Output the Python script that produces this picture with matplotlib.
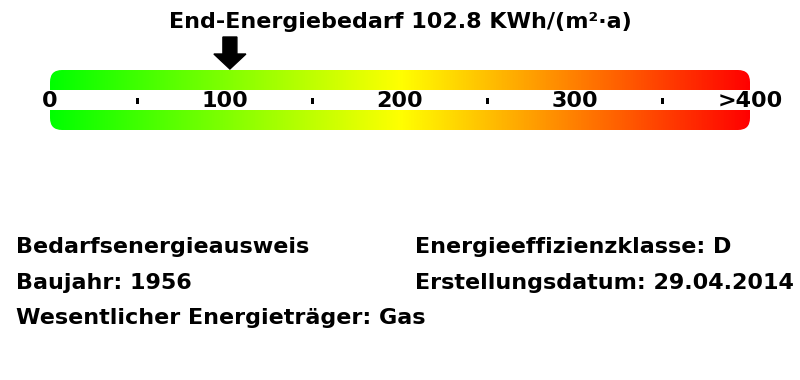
import numpy as np
import matplotlib
matplotlib.use("Agg")
import matplotlib.pyplot as plt
from matplotlib.patches import FancyBboxPatch, Rectangle, FancyArrow
from matplotlib.colors import LinearSegmentedColormap

# ---- data ----
scale_min, scale_max = 0, 400
tick_values = [0, 100, 200, 300, 400]
tick_labels = ["0", "100", "200", "300", ">400"]
minor_ticks = [50, 150, 250, 350]
value = 102.8
title = "End-Energiebedarf 102.8 KWh/(m²·a)"
left_info = ["Bedarfsenergieausweis", "Baujahr: 1956", "Wesentlicher Energieträger: Gas"]
right_info = ["Energieeffizienzklasse: D", "Erstellungsdatum: 29.04.2014"]
grad_colors = ["#00ff00", "#ffff00", "#ff0000"]

W, H = 800, 380
fig = plt.figure(figsize=(W / 100, H / 100), dpi=100)
ax = fig.add_axes([0, 0, 1, 1])
# x: value scale; 0 -> 50px, 400 -> 750px ; y: pixel rows
px_per_unit = 700 / (scale_max - scale_min)
ax.set_xlim(scale_min - 50 / px_per_unit, scale_max + 50 / px_per_unit)
ax.set_ylim(H, 0)
ax.axis("off")

fs = 16
bold = dict(fontsize=fs, fontweight="bold", family="DejaVu Sans", color="black")

# gradient bar with rounded corners
cmap = LinearSegmentedColormap.from_list("energy", grad_colors)
grad = np.linspace(0, 1, 512).reshape(1, -1)
bar_top, bar_bot = 70, 130
radius_px = 12
patch = FancyBboxPatch((scale_min, bar_top), scale_max - scale_min, bar_bot - bar_top,
                       boxstyle=f"round,pad=0,rounding_size={radius_px / px_per_unit}",
                       mutation_aspect=px_per_unit, facecolor="none", edgecolor="none")
ax.add_patch(patch)
im = ax.imshow(grad, cmap=cmap, aspect="auto",
               extent=(scale_min, scale_max, bar_bot, bar_top), interpolation="bilinear")
im.set_clip_path(patch)

# white band
ax.add_patch(Rectangle((scale_min, 90), scale_max - scale_min, 20, facecolor="white",
                       edgecolor="none", zorder=3))

for v, lab in zip(tick_values, tick_labels):
    ax.text(v, 101, lab, ha="center", va="center", zorder=4, **bold)
for v in minor_ticks:
    ax.add_patch(Rectangle((v - 1.5 / px_per_unit, 98), 3 / px_per_unit, 6,
                           facecolor="black", edgecolor="none", zorder=4))

# arrow
ax.add_patch(FancyArrow(value, 37, 0, 32, width=14 / px_per_unit, head_width=32 / px_per_unit,
                        head_length=15, length_includes_head=True, color="black",
                        zorder=5))

ax.text((scale_min + scale_max) / 2, 22, title, ha="center", va="center", **bold)

rows = [247, 283, 318]
x_left = scale_min + (16 - 50) / px_per_unit
x_right = scale_min + (415 - 50) / px_per_unit
for y, t in zip(rows, left_info):
    ax.text(x_left, y, t, ha="left", va="center", **bold)
for y, t in zip(rows, right_info):
    ax.text(x_right, y, t, ha="left", va="center", **bold)

fig.savefig("out.png", dpi=100)
